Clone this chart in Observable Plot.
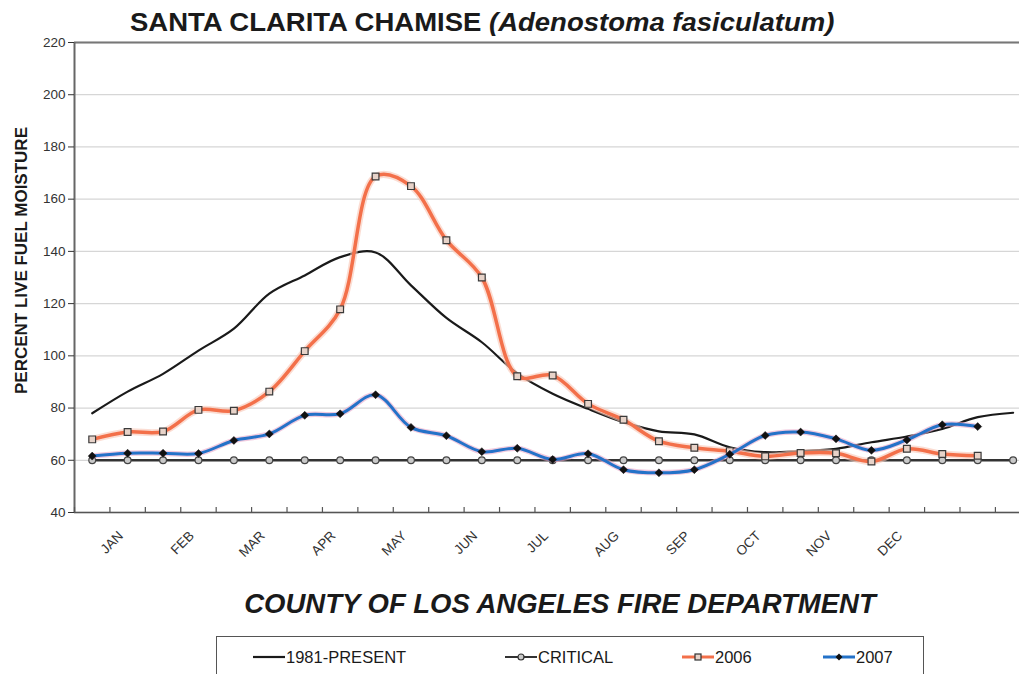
<!DOCTYPE html>
<html>
<head>
<meta charset="utf-8">
<script src="https://cdn.jsdelivr.net/npm/d3@7"></script>
<script src="https://cdn.jsdelivr.net/npm/@observablehq/plot@0.6"></script>
<style>
  html, body { margin: 0; padding: 0; background: #fff; }
  body { width: 1019px; height: 674px; position: relative; overflow: hidden;
         font-family: "Liberation Sans", Arial, Helvetica, sans-serif; color: #1a1a1a; }
  #chart { position: absolute; left: 0; top: 0; }
  #title { position: absolute; left: 130px; top: 10px; font-size: 25px; font-weight: bold; line-height: 1; white-space: nowrap; color: #1a1a1a;
           transform: scaleX(1.1); transform-origin: 0 0; }
  #subtitle { position: absolute; left: 0; width: 1120px; text-align: center; top: 590px; font-size: 27.5px; font-weight: bold; font-style: italic; line-height: 1; color: #1a1a1a; }
  #legend { position: absolute; left: 216px; top: 636px; width: 708px; height: 60px; border: 1.5px solid #555; box-sizing: border-box; }
  .item { position: absolute; top: 10px; font-size: 16.5px; line-height: 20px; white-space: nowrap; display: flex; align-items: center; }
  .item svg { margin-right: 1px; }
</style>
</head>
<body>
<div id="chart"></div>
<div id="title">SANTA CLARITA CHAMISE <i>(Adenostoma fasiculatum)</i></div>
<div id="subtitle">COUNTY OF LOS ANGELES FIRE DEPARTMENT</div>
<div id="legend"></div>
<script>
// ---- data ----
const months = ["JAN","FEB","MAR","APR","MAY","JUN","JUL","AUG","SEP","OCT","NOV","DEC"];
const yTicks = [40, 60, 80, 100, 120, 140, 160, 180, 200, 220];
const seriesNames = ["1981-PRESENT", "CRITICAL", "2006", "2007"];
// half-month readings (1st and 15th of each month)
const avg1981 = [78.0, 86.3, 93.1, 102.0, 110.4, 123.8, 130.8, 137.8, 139.6, 127.0, 114.5, 105.2, 93.3,
                 85.5, 79.7, 74.6, 71.1, 69.9, 65.0, 63.1, 63.5, 64.4, 66.9, 69.1, 72.0, 76.5, 78.2];
const critical = [60, 60, 60, 60, 60, 60, 60, 60, 60, 60, 60, 60, 60, 60,
                  60, 60, 60, 60, 60, 60, 60, 60, 60, 60, 60, 60, 60];
const s2006 = [68.0, 70.8, 71.0, 79.3, 79.0, 86.3, 101.8, 117.8, 168.7, 165.0, 144.3, 130.0, 92.2,
               92.5, 81.6, 75.5, 67.3, 64.8, 63.5, 61.5, 62.8, 62.7, 59.5, 64.4, 62.4, 61.7];
const s2007 = [61.6, 62.7, 62.7, 62.6, 67.6, 70.1, 77.2, 77.8, 85.1, 72.6, 69.4, 63.3, 64.6,
               60.3, 62.5, 56.4, 55.2, 56.4, 62.3, 69.5, 70.8, 68.2, 63.8, 67.8, 73.6, 72.9];

// ---- styles ----
const colors = {avg: "#1a1a1a", crit: "#333333", y2006: "#f3704a", y2007: "#2472c8"};
const font = '"Liberation Sans", Arial, Helvetica, sans-serif';

const idx = (d, i) => i;
const boundaries = d3.range(-0.5, 26.6, 1);
const labelPos = months.map((m, i) => 0.5 + 2 * i);

const chart = Plot.plot({
  width: 1019,
  height: 570,
  marginLeft: 74,
  marginRight: 0,
  marginTop: 42,
  marginBottom: 58,
  style: {fontFamily: font, background: "transparent", overflow: "visible"},
  x: {domain: [-0.5, 26.18], axis: null},
  y: {domain: [40, 220], axis: null},
  marks: [
    Plot.gridY(yTicks, {stroke: "#d6d6d6", strokeOpacity: 1, strokeWidth: 1.3}),
    Plot.ruleY([220], {stroke: "#777", strokeWidth: 2}),
    Plot.ruleY([40], {stroke: "#555", strokeWidth: 1.6}),
    Plot.ruleX([-0.5], {stroke: "#666", strokeWidth: 2}),
    Plot.axisY(yTicks, {tickSize: 6, tickPadding: 3, fontSize: 13.5, color: "#333", label: null}),
    Plot.ruleX(boundaries, {x: d => d, y1: 40, y2: 41.9, stroke: "#555", strokeWidth: 1.2}),
    Plot.text(months, {x: (d, i) => labelPos[i], y: 40, text: d => d, rotate: -45, textAnchor: "end",
                       dx: 11, dy: 21, fontSize: 13.5, fill: "#333"}),
    Plot.text(["PERCENT LIVE FUEL MOISTURE"], {frameAnchor: "left", text: d => d, dx: -53, dy: -17, rotate: -90,
                       textAnchor: "middle", fontWeight: "bold", fontSize: 17, fill: "#1a1a1a"}),
    // 1981-present
    Plot.line(avg1981, {x: idx, y: d => d, curve: "catmull-rom", stroke: colors.avg, strokeWidth: 2.2}),
    // critical
    Plot.line(critical, {x: idx, y: d => d, stroke: colors.crit, strokeWidth: 2.5}),
    Plot.dot(critical, {x: idx, y: d => d, symbol: "circle", r: 3.4, fill: "#c9c9c9", stroke: "#444", strokeWidth: 1.2}),
    // 2006
    Plot.line(s2006, {x: idx, y: d => d, curve: "catmull-rom", stroke: "#f8c6b6", strokeOpacity: 0.6, strokeWidth: 7}),
    Plot.line(s2006, {x: idx, y: d => d, curve: "catmull-rom", stroke: colors.y2006, strokeWidth: 3.5}),
    Plot.dot(s2006, {x: idx, y: d => d, symbol: "square", r: 3.8, fill: "#e7d3c9", stroke: "#3a3a3a", strokeWidth: 1.2}),
    // 2007
    Plot.line(s2007, {x: idx, y: d => d, curve: "catmull-rom", stroke: "#e8a6c8", strokeOpacity: 0.6, strokeWidth: 5.5}),
    Plot.line(s2007, {x: idx, y: d => d, curve: "catmull-rom", stroke: colors.y2007, strokeWidth: 3}),
    Plot.dot(s2007, {x: idx, y: d => d, symbol: "diamond2", r: 3.6, fill: "#111", stroke: "#111", strokeWidth: 0.5})
  ]
});
document.getElementById("chart").appendChild(chart);

// ---- legend ----
const legend = document.getElementById("legend");
const items = [
  {name: seriesNames[0], left: 36, color: colors.avg, w: 2.2, marker: null},
  {name: seriesNames[1], left: 288, color: colors.crit, w: 2, marker: "circle"},
  {name: seriesNames[2], left: 465, color: colors.y2006, w: 3, marker: "square"},
  {name: seriesNames[3], left: 606, color: colors.y2007, w: 3, marker: "diamond"}
];
for (const it of items) {
  const span = document.createElement("div");
  span.className = "item";
  span.style.left = it.left + "px";
  let m = "";
  if (it.marker === "circle") m = '<circle cx="16" cy="10" r="3" fill="#c9c9c9" stroke="#333" stroke-width="1.2"/>';
  if (it.marker === "square") m = '<rect x="13" y="7" width="6" height="6" fill="#e7d3c9" stroke="#333" stroke-width="1.2"/>';
  if (it.marker === "diamond") m = '<path d="M16,6.5 L19.5,10 L16,13.5 L12.5,10 Z" fill="#111"/>';
  span.innerHTML = `<svg width="32" height="20"><line x1="0" x2="32" y1="10" y2="10" stroke="${it.color}" stroke-width="${it.w}"/>${m}</svg><span>${it.name}</span>`;
  legend.appendChild(span);
}
</script>
</body>
</html>
